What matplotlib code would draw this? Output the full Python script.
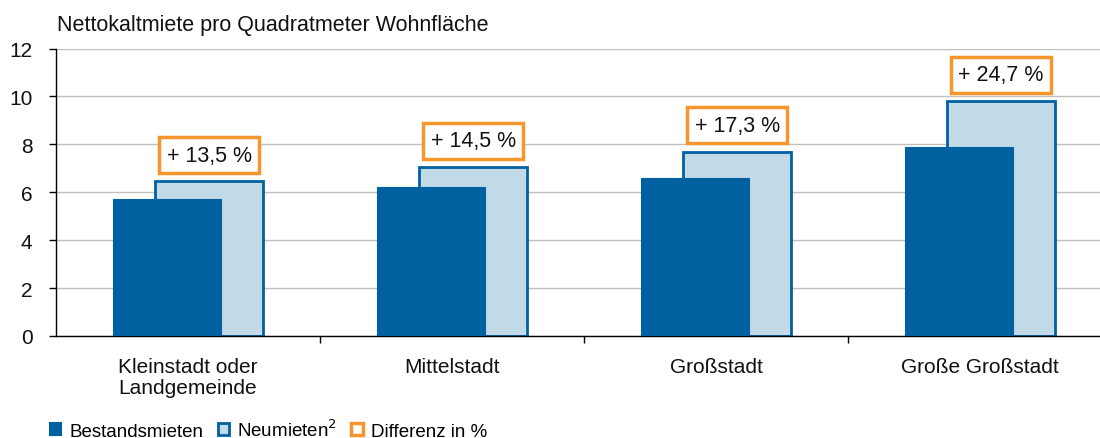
import matplotlib
matplotlib.use("Agg")
import matplotlib.pyplot as plt
from matplotlib.patches import Patch
import numpy as np

categories = ["Kleinstadt oder\nLandgemeinde", "Mittelstadt", "Großstadt", "Große Großstadt"]
bestand = [5.7, 6.2, 6.6, 7.9]
neu = [6.45, 7.05, 7.7, 9.8]
diff_labels = ["+ 13,5 %", "+ 14,5 %", "+ 17,3 %", "+ 24,7 %"]
yticks = [0, 2, 4, 6, 8, 10, 12]

plt.rcParams['font.family'] = ['Liberation Sans', 'DejaVu Sans']

DARK = "#0060a0"
LIGHT = "#c2d9e8"
ORANGE = "#f7962d"
TXT = "#111111"

fig = plt.figure(figsize=(11, 4.39), dpi=100)
ax = fig.add_axes([56/1100, 102/439, 1056/1100, 287.5/439])

x = np.arange(len(categories))
w = 0.41
off = 0.08
ax.bar(x + off, neu, width=w, color=LIGHT, edgecolor=DARK, linewidth=2, zorder=2)
ax.bar(x - off, bestand, width=w, color=DARK, edgecolor=DARK, linewidth=0.8, zorder=3)

for xi, v, lab in zip(x, neu, diff_labels):
    ax.annotate(lab, (xi + off, v), xytext=(0, 19), textcoords="offset points",
                ha="center", va="center", fontsize=15.5, color=TXT, zorder=5,
                bbox=dict(boxstyle="square,pad=0.35", fc="white", ec=ORANGE, lw=2.5))

ax.set_xlim(-0.5, 3.5)
ax.set_ylim(0, 12)
ax.set_yticks(yticks)
ax.set_yticklabels([str(t) for t in yticks], fontsize=15, color=TXT)
ax.set_xticks(x)
ax.set_xticklabels(categories, fontsize=15, linespacing=1.15, color=TXT)
ax.set_xticks(np.arange(0.5, 3.5, 1), minor=True)
ax.tick_params(axis='x', which='major', length=0, pad=15)
ax.tick_params(axis='x', which='minor', length=5, width=1, direction='out')
ax.tick_params(axis='y', length=5, width=1, direction='out', pad=12)
ax.grid(axis='y', color="#c0c0c0", linewidth=1, zorder=0)
ax.set_axisbelow(True)
for s in ['top', 'right']:
    ax.spines[s].set_visible(False)
ax.spines['left'].set_linewidth(1)
ax.spines['bottom'].set_linewidth(1)

fig.text(57/1100, 1 - 26/439, "Nettokaltmiete pro Quadratmeter Wohnfläche", fontsize=15.5,
         ha="left", va="center", color=TXT)

handles = [Patch(fc=DARK, ec=DARK, lw=1.5),
           Patch(fc=LIGHT, ec=DARK, lw=2),
           Patch(fc="white", ec=ORANGE, lw=2.5)]
labels = ["Bestandsmieten", "Neumieten$^2$", "Differenz in %"]
fig.legend(handles, labels, loc="center left", bbox_to_anchor=(50/1100, 1 - 430/439),
           ncol=3, frameon=False, fontsize=13.5, handlelength=0.6, handleheight=0.6,
           handletextpad=0.45, columnspacing=0.75, borderaxespad=0, borderpad=0)

fig.savefig("out.png", dpi=100)
